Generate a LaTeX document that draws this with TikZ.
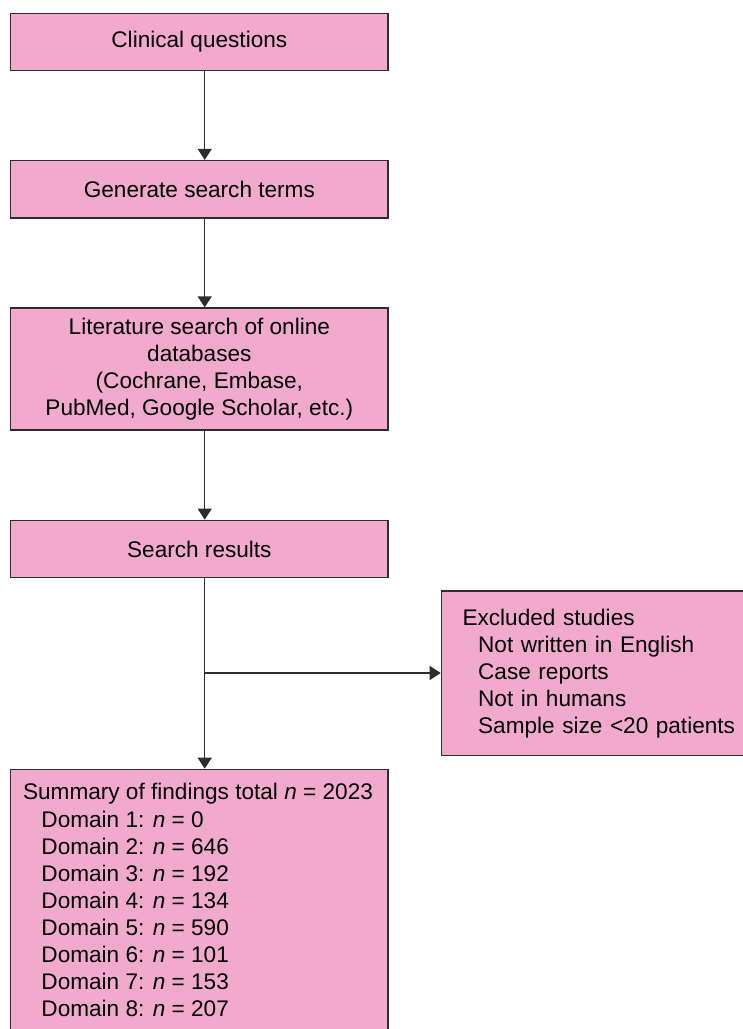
\documentclass[tikz,border=0pt]{standalone}
\usepackage{fontspec}
\setmainfont{Liberation Sans}
\usetikzlibrary{arrows.meta}
\definecolor{boxpink}{RGB}{241,170,204}
\definecolor{edgegray}{RGB}{45,45,45}

\begin{document}
\begin{tikzpicture}[x=0.5pt, y=-0.5pt,
	box/.style={draw=edgegray, fill=boxpink, line width=0.65pt, minimum width=188.65pt, minimum height=28.7pt, align=center, inner sep=0pt, font=\fontsize{11.3}{13.5}\selectfont},
	arr/.style={draw=edgegray, line width=0.65pt, -{Triangle[width=7pt,length=5.5pt]}}]
	\useasboundingbox (0,0) rectangle (743,1029);

	\node[box] (quest) at (199.35,42) {Clinical questions};
	\node[box] (terms) at (199.35,189.2) {Generate search terms};
	\node[box, minimum height=61pt] (lit) at (199.35,369) {Literature search of online\\databases\\(Cochrane, Embase,\\PubMed, Google Scholar, etc.)};
	\node[box] (res) at (199.35,549) {Search results};
	\node[box, anchor=west, align=left, minimum width=0pt, text width=139pt, inner xsep=10.6pt, minimum height=82.35pt] (excl) at (440.7,673.3) {Excluded studies\\
		\hspace*{7.8pt}Not written in English\\
		\hspace*{7.8pt}Case reports\\
		\hspace*{7.8pt}Not in humans\\
		\hspace*{7.8pt}Sample size <20 patients};
	\node[box, anchor=north, minimum height=140pt] (summ) at (199.35,768.7) {};
	\node[anchor=north west, align=left, inner sep=0pt, font=\fontsize{11.3}{13.55}\selectfont] (counts) at ([shift={(12.6,14.5)}]summ.north west) {Summary of findings total \textit{n} = 2023\\
		\hspace*{9.2pt}Domain 1: \textit{n} = 0\\
		\hspace*{9.2pt}Domain 2: \textit{n} = 646\\
		\hspace*{9.2pt}Domain 3: \textit{n} = 192\\
		\hspace*{9.2pt}Domain 4: \textit{n} = 134\\
		\hspace*{9.2pt}Domain 5: \textit{n} = 590\\
		\hspace*{9.2pt}Domain 6: \textit{n} = 101\\
		\hspace*{9.2pt}Domain 7: \textit{n} = 153\\
		\hspace*{9.2pt}Domain 8: \textit{n} = 207};

	\coordinate (lane) at (204.7,0);
	\coordinate (split) at (204.7,673);
	\draw[arr] (quest.south -| lane) -- (terms.north -| lane);
	\draw[arr] (terms.south -| lane) -- (lit.north -| lane);
	\draw[arr] (lit.south -| lane) -- (res.north -| lane);
	\draw[arr] (res.south -| lane) -- (summ.north -| lane);
	\draw[arr] (split) -- (split -| excl.west);
\end{tikzpicture}
\end{document}
